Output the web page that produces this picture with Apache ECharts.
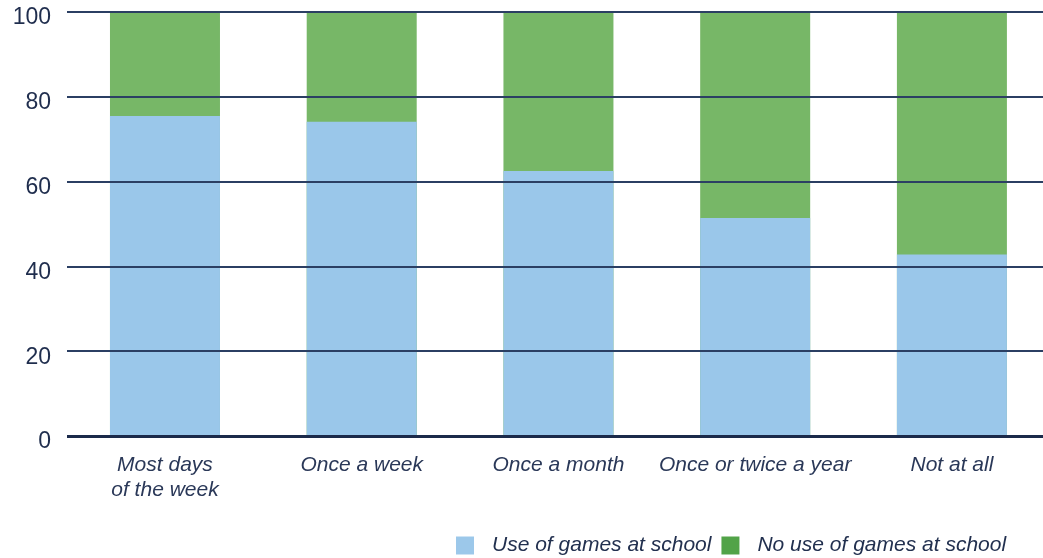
<!DOCTYPE html>
<html><head><meta charset="utf-8">
<script src="https://cdn.jsdelivr.net/npm/echarts@6/dist/echarts.min.js"></script>
<style>html,body{margin:0;padding:0;background:#fff}#c{width:1043px;height:558px}</style>
</head><body><div id="c"></div>
<script>
const categories = ['Most days\nof the week', 'Once a week', 'Once a month', 'Once or twice a year', 'Not at all'];
const useGames = [75.5, 74.1, 62.5, 51.4, 42.8];
const noUseGames = [24.5, 25.9, 37.5, 48.6, 57.2];
const seriesNames = ['Use of games at school', 'No use of games at school'];
const yTicks = [0, 20, 40, 60, 80, 100];

const positions = categories.map((_, i) => i);
// green segment sits on top of blue: draw it from 0 to (use + no use), blue overlaid
const totals = useGames.map((v, i) => v + noUseGames[i]);
const chart = echarts.init(document.getElementById('c'));
chart.setOption({
  animation: false,
  textStyle: { fontFamily: 'Liberation Sans' },
  grid: { left: 67, top: 12, right: 0, height: 424 },
  legend: {
    top: 530, left: 451,
    itemWidth: 18, itemHeight: 18, itemGap: 10,
    textStyle: { fontStyle: 'italic', fontSize: 21, color: '#22304f', fontFamily: 'Liberation Sans', padding: [0, 0, 0, 13] },
    data: [
      { name: seriesNames[0], icon: 'rect', itemStyle: { color: '#9cc8ea' } },
      { name: seriesNames[1], icon: 'rect', itemStyle: { color: '#52a348' } }
    ]
  },
  xAxis: {
    type: 'value', min: -0.498, max: 4.463,
    axisLine: { show: false }, axisTick: { show: false }, splitLine: { show: false },
    axisLabel: {
      customValues: positions,
      formatter: v => categories[Math.round(v)],
      fontStyle: 'italic', fontSize: 21, color: '#2a3858', lineHeight: 25, margin: 17
    }
  },
  yAxis: {
    type: 'value', min: 0, max: 100, interval: 20, z: 5,
    axisLine: { show: false }, axisTick: { show: false },
    axisLabel: {
      margin: 16,
      formatter: '{a|{value}}',
      rich: { a: { fontSize: 23, color: '#1f2d4d', fontFamily: 'Liberation Sans', padding: [12, 0, 0, 0] } }
    },
    splitLine: { lineStyle: { color: '#2b3f63', width: 2 } }
  },
  series: [
    { name: seriesNames[1], type: 'bar', data: totals.map((v, i) => [positions[i], v]), barWidth: 110, barGap: '-100%', itemStyle: { color: '#77b767' } },
    { name: seriesNames[0], type: 'bar', data: useGames.map((v, i) => [positions[i], v]), barWidth: 110, barGap: '-100%', itemStyle: { color: '#9ac7ea' },
      markLine: { silent: true, symbol: 'none', label: { show: false }, lineStyle: { color: '#1b2a4a', width: 3, type: 'solid' }, data: [{ yAxis: yTicks[0] }], z: 6 } }
  ]
});
</script></body></html>
